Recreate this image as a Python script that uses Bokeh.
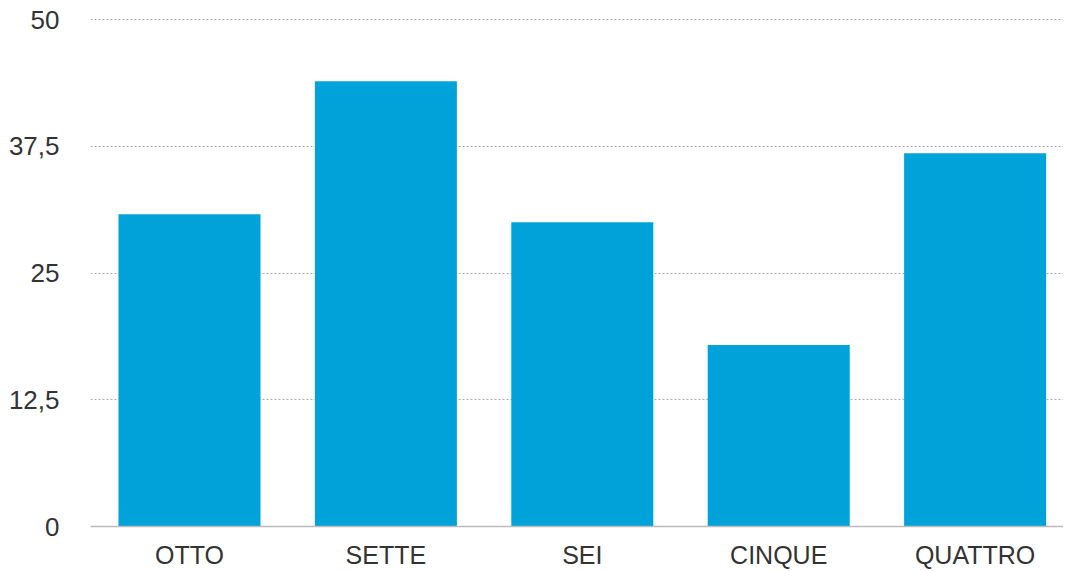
from bokeh.plotting import figure
from bokeh.models import ColumnDataSource, FixedTicker, Range1d
from bokeh.embed import file_html
from bokeh.resources import INLINE

categories = ["OTTO", "SETTE", "SEI", "CINQUE", "QUATTRO"]
values = [30.8, 43.9, 30.0, 17.9, 36.8]
y_ticks = [0, 12.5, 25, 37.5, 50]
y_tick_labels = ["0", "12,5", "25", "37,5", "50"]

xs = list(range(len(categories)))
src = ColumnDataSource(dict(x=xs, top=values, cat=categories))

p = figure(width=1063, height=571, output_backend="svg", toolbar_location=None,
           x_range=Range1d(-0.504, 4.45), y_range=Range1d(0, 50.1),
           min_border_left=90, min_border_right=0, min_border_top=18, min_border_bottom=44)
p.outline_line_color = None
p.background_fill_color = "white"
p.border_fill_color = "white"

p.vbar(x="x", top="top", width=0.723, source=src, color="#00A3D9", line_color=None)

font = "Liberation Sans"
p.yaxis.ticker = FixedTicker(ticks=y_ticks)
p.yaxis.major_label_overrides = {t: l for t, l in zip(y_ticks, y_tick_labels)}
p.yaxis.axis_line_color = None
p.yaxis.major_tick_line_color = None
p.yaxis.minor_tick_line_color = None
p.yaxis.major_label_standoff = 25
p.yaxis.major_label_text_font = font
p.yaxis.major_label_text_font_size = "26px"
p.yaxis.major_label_text_color = "#333333"

p.xaxis.ticker = FixedTicker(ticks=xs)
p.xaxis.major_label_overrides = {i: c for i, c in zip(xs, categories)}
p.xaxis.axis_line_color = "#bbbbbb"
p.xaxis.axis_line_width = 1.5
p.xaxis.major_tick_line_color = None
p.xaxis.minor_tick_line_color = None
p.xaxis.major_label_standoff = 8
p.xaxis.major_label_text_font = font
p.xaxis.major_label_text_font_size = "25px"
p.xaxis.major_label_text_color = "#333333"

p.xgrid.grid_line_color = None
p.ygrid.grid_line_color = "#aaaaaa"
p.ygrid.grid_line_dash = "2 2"
p.ygrid.grid_line_width = 1

open("out.html", "w").write(file_html(p, INLINE))
